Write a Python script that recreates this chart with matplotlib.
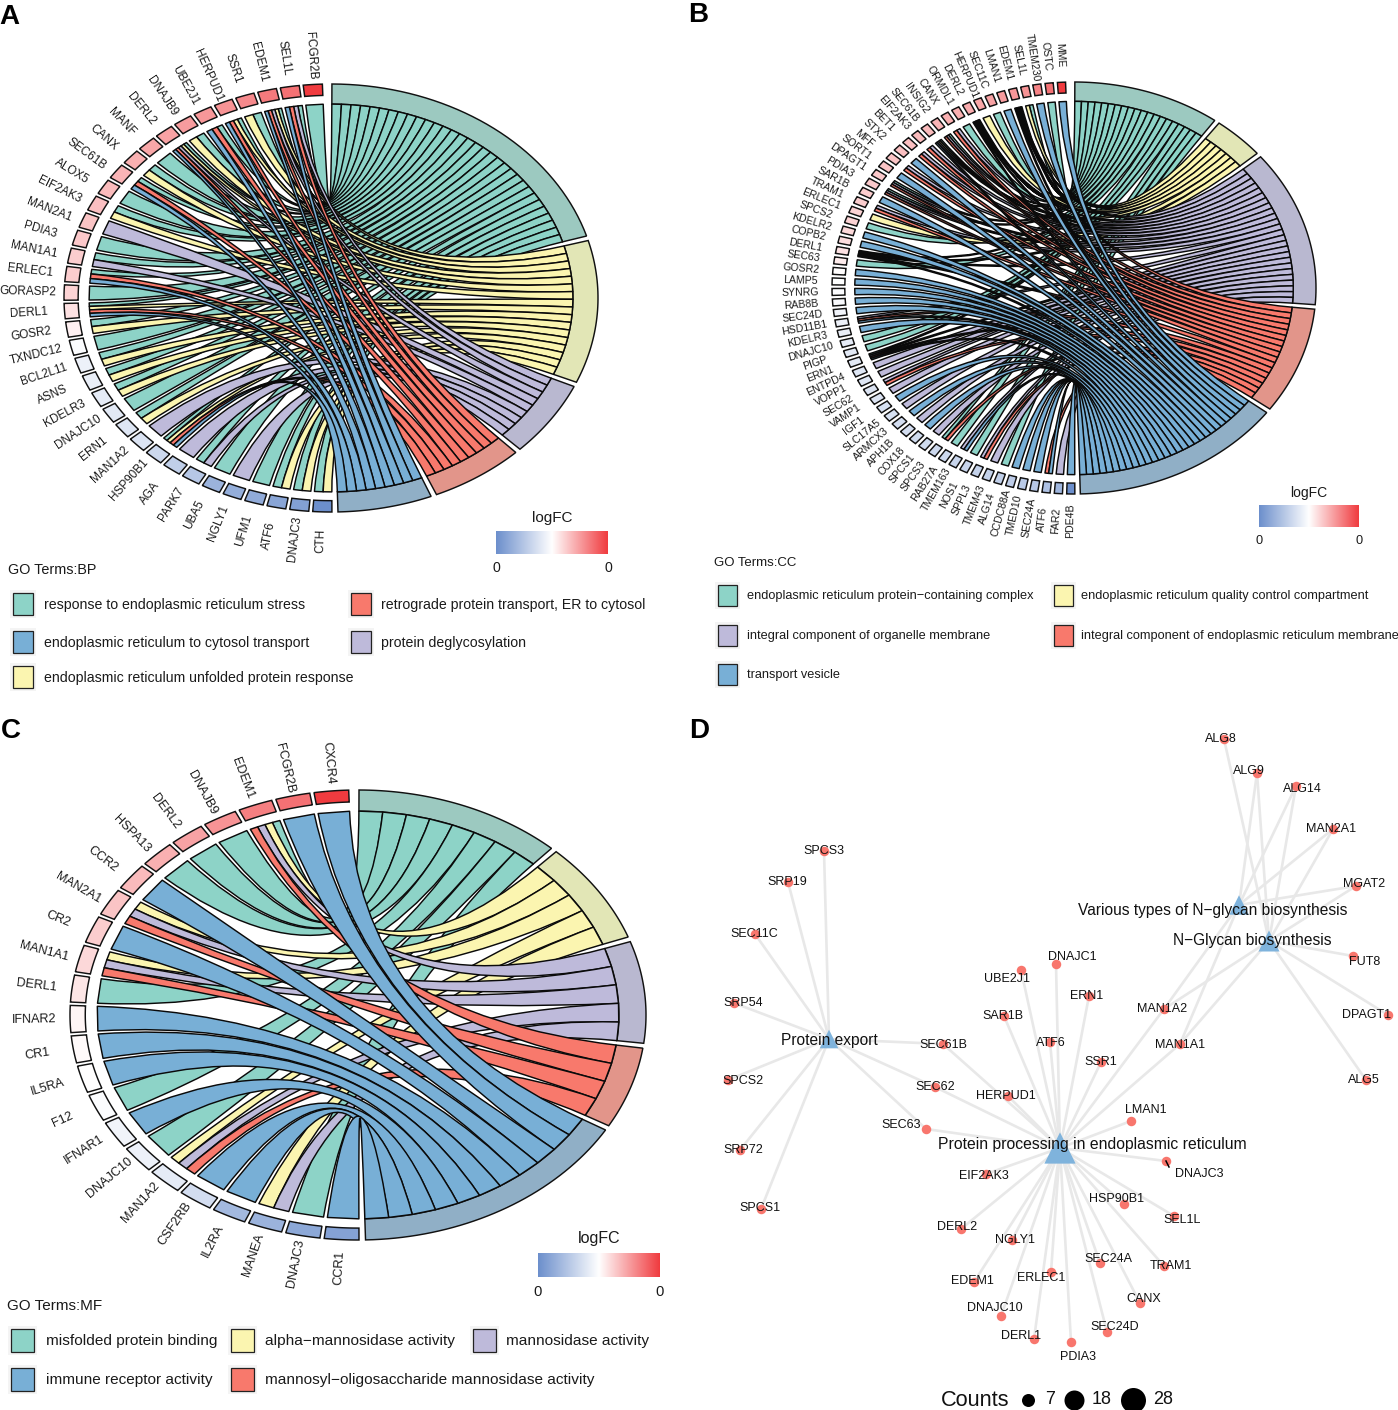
import numpy as np
import matplotlib
matplotlib.use('Agg')
import matplotlib.pyplot as plt
from matplotlib.colors import LinearSegmentedColormap
from matplotlib.patches import PathPatch, Rectangle
from matplotlib.path import Path

plt.rcParams['font.family'] = ['Liberation Sans', 'DejaVu Sans']

# Term order runs clockwise from the top: G Y L R B
TERM_KEYS = 'GYLRB'
ribbon_colors = {'G': '#8DD3C7', 'Y': '#FBF5B0', 'L': '#BEBADA', 'R': '#F8796C', 'B': '#78AFD6'}
ring_colors = {'G': '#9CC9C0', 'Y': '#E2E6B6', 'L': '#B9B8D0', 'R': '#E2958A', 'B': '#90AFC6'}

# Panel A, genes from the bottom of the circle to the top
bp_genes = ['CTH', 'DNAJC3', 'ATF6', 'UFM1', 'NGLY1', 'UBA5', 'PARK7', 'AGA', 'HSP90B1', 'MAN1A2', 'ERN1', 'DNAJC10',
            'KDELR3', 'ASNS', 'BCL2L11', 'TXNDC12', 'GOSR2', 'DERL1', 'GORASP2', 'ERLEC1', 'MAN1A1', 'PDIA3', 'MAN2A1',
            'EIF2AK3', 'ALOX5', 'SEC61B', 'CANX', 'MANF', 'DERL2', 'DNAJB9', 'UBE2J1', 'HERPUD1', 'SSR1', 'EDEM1',
            'SEL1L', 'FCGR2B']
bp_terms = ['GY', 'GY', 'GY', 'G', 'L', 'G', 'GL', 'L', 'GYRB', 'L', 'GY', 'G',
            'GY', 'GY', 'GY', 'G', 'GY', 'GYRB', 'G', 'GRB', 'GL', 'G', 'L',
            'GY', 'G', 'GRB', 'GY', 'G', 'GYLRB', 'GY', 'GRB', 'GYRB', 'GY', 'GYLRB',
            'GLRB', 'G']
bp_logfc = [-.40, -.34, -.32, -.30, -.29, -.27, -.20, -.17, -.14, -.10, -.09, -.08,
            -.07, -.06, -.05, -.01, .03, .06, .09, .10, .10, .11, .12,
            .13, .14, .15, .16, .18, .19, .20, .21, .22, .24, .27,
            .29, .40]
bp_legend = ['response to endoplasmic reticulum stress', 'endoplasmic reticulum to cytosol transport',
             'endoplasmic reticulum unfolded protein response', 'retrograde protein transport, ER to cytosol',
             'protein deglycosylation']

# Panel B
cc_genes = ['PDE4B', 'FAR2', 'ATF6', 'SEC24A', 'TMED10', 'CCDC88A', 'ALG14', 'TMEM43', 'SPPL3', 'NOS1', 'TMEM163',
            'RAB27A', 'SPCS3', 'SPCS1', 'COX18', 'APH1B', 'ARMCX3', 'SLC17A5', 'IGF1', 'VAMP1', 'SEC62', 'VOPP1',
            'ENTPD4', 'ERN1', 'PIGP', 'DNAJC10', 'KDELR3', 'HSD11B1', 'SEC24D', 'RAB8B', 'SYNRG', 'LAMP5', 'GOSR2',
            'SEC63', 'DERL1', 'COPB2', 'KDELR2', 'SPCS2', 'ERLEC1', 'TRAM1', 'SAR1B', 'PDIA3', 'DPAGT1', 'SORT1',
            'MFF', 'STX2', 'BET1', 'EIF2AK3', 'SEC61B', 'INSIG2', 'CANX', 'ORMDL1', 'DERL2', 'HERPUD1', 'SEC11C',
            'LMAN1', 'EDEM1', 'SEL1L', 'TMEM230', 'OSTC', 'MME']
cc_terms = ['B', 'L', 'RB', 'B', 'B', 'B', 'G', 'L', 'LR', 'G', 'LB',
            'G', 'GR', 'L', 'B', 'L', 'B', 'L', 'B', 'L', 'LR', 'L',
            'L', 'GLRB', 'G', 'G', 'B', 'LRB', 'B', 'B', 'B', 'B', 'B',
            'G', 'GYLRB', 'B', 'B', 'G', 'Y', 'LR', 'B', 'GLR', 'GLR', 'B',
            'LR', 'B', 'LR', 'LR', 'GYLB', 'GLR', 'LR', 'G', 'GYLRB', 'Y', 'G',
            'B', 'GYLRB', 'GY', 'B', 'G', 'B']
cc_logfc = [-.40, -.26, -.22, -.20, -.19, -.18, -.17, -.16, -.16, -.15, -.15,
            -.14, -.14, -.13, -.13, -.12, -.12, -.11, -.11, -.10, -.10, -.09,
            -.09, -.08, -.08, -.07, -.06, -.05, -.04, -.02, -.01, -.005, .005,
            .04, .06, .07, .08, .09, .09, .10, .10, .11, .11, .12,
            .12, .13, .13, .14, .14, .15, .16, .16, .17, .18, .19,
            .20, .21, .22, .25, .29, .40]
cc_legend = ['endoplasmic reticulum protein\u2212containing complex', 'integral component of organelle membrane',
             'transport vesicle', 'endoplasmic reticulum quality control compartment',
             'integral component of endoplasmic reticulum membrane']

# Panel C
mf_genes = ['CCR1', 'DNAJC3', 'MANEA', 'IL2RA', 'CSF2RB', 'MAN1A2', 'DNAJC10', 'IFNAR1', 'F12', 'IL5RA', 'CR1', 'IFNAR2',
            'DERL1', 'MAN1A1', 'CR2', 'MAN2A1', 'CCR2', 'HSPA13', 'DERL2', 'DNAJB9', 'EDEM1', 'FCGR2B', 'CXCR4']
mf_terms = ['B', 'G', 'YL', 'B', 'B', 'YLR', 'G', 'B', 'G', 'B', 'B', 'B',
            'G', 'YLR', 'B', 'YLR', 'B', 'G', 'G', 'G', 'GYLR', 'B', 'B']
mf_logfc = [-.33, -.31, -.27, -.25, -.12, -.07, -.05, -.04, -.01, .0, .01, .02,
            .05, .08, .10, .12, .14, .16, .19, .22, .26, .29, .40]
mf_legend = ['misfolded protein binding', 'immune receptor activity', 'alpha\u2212mannosidase activity',
             'mannosyl\u2212oligosaccharide mannosidase activity', 'mannosidase activity']

# Panel D network, layout
hub_names = ['Protein export', 'Protein processing in endoplasmic reticulum',
             'Various types of N\u2212glycan biosynthesis', 'N\u2212Glycan biosynthesis']
hub_x = [829, 1060, 1239, 1269]
hub_y = [1039, 1148, 905, 941]
hub_counts = [10, 28, 11, 13]
hub_label_x = [829, 1092, 1213, 1252]
hub_label_y = [1041, 1145, 911, 941]

node_names = ['ALG8', 'ALG9', 'ALG14', 'MAN2A1', 'MGAT2', 'FUT8', 'DPAGT1', 'ALG5', 'SPCS3', 'SRP19', 'SEC11C', 'SRP54',
              'SPCS2', 'SRP72', 'SPCS1', 'SEC61B', 'SEC62', 'SEC63', 'UBE2J1', 'DNAJC1', 'ERN1', 'SAR1B', 'ATF6', 'SSR1',
              'MAN1A2', 'MAN1A1', 'HERPUD1', 'LMAN1', 'DNAJC3', 'EIF2AK3', 'HSP90B1', 'SEL1L', 'DERL2', 'NGLY1', 'SEC24A',
              'TRAM1', 'ERLEC1', 'EDEM1', 'CANX', 'DNAJC10', 'SEC24D', 'DERL1', 'PDIA3']
node_x = [1224, 1257, 1296, 1333, 1356, 1353, 1388, 1366, 824, 788, 755, 734,
          728, 740, 761, 943, 935, 926, 1021, 1056, 1089, 1004, 1050, 1101,
          1164, 1180, 1008, 1131, 1166, 986, 1124, 1174, 961, 1012, 1100,
          1164, 1051, 974, 1140, 1001, 1107, 1034, 1071]
node_y = [739, 773, 786, 829, 886, 956, 1015, 1080, 851, 882, 934, 1003,
          1080, 1150, 1209, 1044, 1087, 1129, 970, 964, 996, 1016, 1042, 1062,
          1009, 1044, 1096, 1121, 1161, 1174, 1204, 1216, 1229, 1240, 1263,
          1266, 1272, 1282, 1303, 1316, 1332, 1339, 1342]
node_label_x = [1221, 1249, 1302, 1331, 1364, 1365, 1367, 1364, 824, 787, 754, 743,
                743, 743, 760, 943, 935, 901, 1007, 1072, 1087, 1003, 1051, 1101,
                1162, 1180, 1006, 1146, 1199, 984, 1117, 1182, 957, 1015, 1108,
                1171, 1041, 972, 1144, 995, 1115, 1021, 1078]
node_label_y = [739, 771, 789, 829, 884, 962, 1015, 1080, 851, 882, 934, 1003,
                1081, 1150, 1208, 1045, 1087, 1125, 979, 957, 996, 1016, 1043, 1062,
                1009, 1045, 1096, 1110, 1174, 1176, 1199, 1220, 1227, 1240, 1259,
                1266, 1278, 1281, 1299, 1308, 1327, 1336, 1357]
edges_export = ['SPCS3', 'SRP19', 'SEC11C', 'SRP54', 'SPCS2', 'SRP72', 'SPCS1', 'SEC61B', 'SEC62', 'SEC63']
edges_processing = ['UBE2J1', 'DNAJC1', 'ERN1', 'SAR1B', 'ATF6', 'SSR1', 'MAN1A2', 'MAN1A1', 'HERPUD1', 'LMAN1', 'DNAJC3',
                    'EIF2AK3', 'HSP90B1', 'SEL1L', 'DERL2', 'NGLY1', 'SEC24A', 'TRAM1', 'ERLEC1', 'EDEM1', 'CANX',
                    'DNAJC10', 'SEC24D', 'DERL1', 'PDIA3', 'SEC61B', 'SEC62', 'SEC63']
edges_various = ['ALG9', 'ALG14', 'MAN2A1', 'MGAT2', 'MAN1A2', 'MAN1A1']
edges_nglycan = ['ALG8', 'ALG9', 'ALG14', 'MAN2A1', 'MGAT2', 'FUT8', 'DPAGT1', 'ALG5', 'MAN1A2', 'MAN1A1']
size_levels = [7, 18, 28]

LOGFC_CMAP = LinearSegmentedColormap.from_list('logfc', ['#6C8FCC', '#FFFFFF', '#F03B3F'])
LOGFC_MAX = 0.4
RING_IN = 0.906
GENE_IN = 0.947

fig = plt.figure(figsize=(13.98, 14.10), dpi=100)
# whole figure is one axes in picture pixels
ax = fig.add_axes([0, 0, 1, 1])
ax.set_axis_off()


def ell(cx, cy, rx, ry, deg, r=1.0):
    t = np.radians(deg)
    return cx + rx * r * np.cos(t), cy - ry * r * np.sin(t)


def band(cx, cy, rx, ry, a0, a1, r0, r1, face, lw=1.05):
    # closed ring segment between two angles
    ang = np.linspace(a0, a1, 40)
    xo, yo = ell(cx, cy, rx, ry, ang, r1)
    xi, yi = ell(cx, cy, rx, ry, ang[::-1], r0)
    ax.fill(np.r_[xo, xi], np.r_[yo, yi], facecolor=face, edgecolor='#111111', lw=lw, joinstyle='miter', zorder=2)


def chord(cx, cy, rx, ry, genes, terms, logfc, label_r, label_size, gene_gap=0.85, term_gap=1.25):
    n = len(genes)
    g_from, g_to = 270.2, 91.0
    step = (g_from - g_to) / n

    # gene blocks, labels and the gene side of the ribbons
    gene_ends = {k: {} for k in TERM_KEYS}
    for i, name in enumerate(genes):
        a0 = g_from - i * step
        a1 = a0 - step + gene_gap
        color = LOGFC_CMAP(0.5 + logfc[i] / (2 * LOGFC_MAX))
        band(cx, cy, rx, ry, a0, a1, GENE_IN, 1.0, color)
        mid = (a0 + a1) / 2
        lx, ly = ell(cx, cy, rx, ry, mid, label_r)
        ax.text(lx, ly, name, rotation=mid - 180, rotation_mode='anchor', ha='center', va='center',
                fontsize=label_size, color='#1a1a1a', zorder=6)
        present = [k for k in TERM_KEYS[::-1] if k in terms[i]]
        w = (a0 - a1) / len(present)
        for j, k in enumerate(present):
            gene_ends[k][i] = (a0 - j * w, a0 - (j + 1) * w)

    # term ring, ribbon width is the same for all terms
    t_from, t_to = 89.8, -88.5
    total = sum(len(v) for v in gene_ends.values())
    each = (t_from - t_to - term_gap * (len(TERM_KEYS) - 1)) / total
    start = t_from
    for k in TERM_KEYS:
        members = sorted(gene_ends[k], reverse=True)
        stop = start - each * len(members)
        band(cx, cy, rx, ry, start, stop, RING_IN, 1.0, ring_colors[k])
        for j, i in enumerate(members):
            t0 = start - j * each
            t1 = t0 - each
            g_low, g_high = gene_ends[k][i]
            p0 = ell(cx, cy, rx, ry, t0, RING_IN)
            p1 = ell(cx, cy, rx, ry, g_high, RING_IN)
            p2 = ell(cx, cy, rx, ry, g_low, RING_IN)
            p3 = ell(cx, cy, rx, ry, t1, RING_IN)
            verts = [p0, (cx, cy), p1, p2, (cx, cy), p3, p0]
            codes = [Path.MOVETO, Path.CURVE3, Path.CURVE3, Path.LINETO, Path.CURVE3, Path.CURVE3, Path.CLOSEPOLY]
            ax.add_patch(PathPatch(Path(verts, codes), facecolor=ribbon_colors[k], edgecolor='#0a0a0a', lw=1.05,
                                   joinstyle='round', zorder=3))
        start = stop - term_gap


def colorbar(x0, x1, y0, y1, title_y, tick_y, size):
    grad = np.linspace(-LOGFC_MAX, LOGFC_MAX, 256).reshape(1, -1)
    ax.imshow(grad, cmap=LOGFC_CMAP, vmin=-LOGFC_MAX, vmax=LOGFC_MAX, extent=(x0, x1, y1, y0), aspect='auto', zorder=2)
    ax.text((x0 + x1) / 2, title_y, 'logFC', ha='center', va='center', fontsize=size, color='#1a1a1a')
    for x in (x0, x1):
        ax.text(x, tick_y, f'{0:.0f}', ha='center', va='center', fontsize=size * 0.92, color='#1a1a1a')


def legend(title, title_x, title_y, title_size, entries, keys, xs, ys, text_xs, w, h, size):
    ax.text(title_x, title_y, title, ha='left', va='center', fontsize=title_size, color='#1a1a1a')
    for name, k, x, y, tx in zip(entries, keys, xs, ys, text_xs):
        ax.add_patch(Rectangle((x - 3, y - h / 2 - 3), w + 6, h + 6, facecolor='#F4F4F4', edgecolor='none', zorder=1))
        ax.add_patch(Rectangle((x, y - h / 2), w, h, facecolor=ribbon_colors[k], edgecolor='#222222', lw=0.9, zorder=2))
        ax.text(tx, y + 1, name, ha='left', va='center', fontsize=size, color='#1a1a1a')


chord(331, 298, 267, 214, bp_genes, bp_terms, bp_logfc, 1.135, 8.5)
chord(1074, 288, 242, 206, cc_genes, cc_terms, cc_logfc, 1.13, 7.6, gene_gap=1.0)
chord(358, 1015, 288, 225, mf_genes, mf_terms, mf_logfc, 1.125, 9.1)

colorbar(496, 608, 531, 554, 518, 568, 11)
colorbar(1259, 1359, 505, 527, 493, 541, 10)
colorbar(538, 660, 1253, 1277, 1239, 1292, 11.5)

legend('GO Terms:BP', 8, 570, 10.4, bp_legend, 'GBYRL',
       [13, 13, 13, 351, 351], [604, 642, 677, 604, 642], [44, 44, 44, 381, 381], 20, 22, 10.2)
legend('GO Terms:CC', 714, 563, 9.5, cc_legend, 'GLBYR',
       [718, 718, 718, 1054, 1054], [595, 635, 674, 595, 635], [747, 747, 747, 1081, 1081], 19, 21, 9.15)
legend('GO Terms:MF', 7, 1306, 11, mf_legend, 'GBYRL',
       [11, 11, 231, 231, 473], [1340, 1379, 1340, 1379, 1340], [46, 46, 265, 265, 506], 23, 23, 11.1)

# panel D
pos = {name: (x, y) for name, x, y in zip(node_names, node_x, node_y)}
hub_edges = [edges_export, edges_processing, edges_various, edges_nglycan]
for hx, hy, members in zip(hub_x, hub_y, hub_edges):
    for m in members:
        ax.plot([hx, pos[m][0]], [hy, pos[m][1]], color='#E8E8E8', lw=1.9, solid_capstyle='round', zorder=1)
ax.plot([1166, 1169], [1161, 1167], color='black', lw=1.1, zorder=4)


def marker_area(count, scale=1.0):
    # diameter in pixels grows with count, scatter wants points squared
    d = np.interp(count, size_levels, [13, 20, 25]) * scale
    return (d * 0.72) ** 2


ax.scatter(node_x, node_y, s=(9.5 * 0.72) ** 2, color='#F8766D', linewidths=0, zorder=3)
ax.scatter(hub_x, hub_y, s=[marker_area(c, 1.25) for c in hub_counts], marker='^', color='#7FB3DC', linewidths=0, zorder=3)
for name, x, y in zip(node_names, node_label_x, node_label_y):
    ax.text(x, y, name, ha='center', va='center', fontsize=9, color='#111111', zorder=5)
for name, x, y in zip(hub_names, hub_label_x, hub_label_y):
    size = 11.35 if name.startswith('Protein processing') else 11.2
    ax.text(x, y, name, ha='center', va='center', fontsize=size, color='#111111', zorder=5)

ax.text(975.5, 1400, 'Counts', ha='center', va='center', fontsize=15.7, color='#111111')
for level, dot_x, text_x in zip(size_levels, [1028, 1074, 1133], [1050, 1102, 1163]):
    ax.scatter([dot_x], [1400], s=marker_area(level), color='black', linewidths=0, zorder=3)
    ax.text(text_x, 1400, str(level), ha='center', va='center', fontsize=13, color='#111111')

# panel letters
for letter, x, y in [('A', 9, 17), ('B', 698, 15), ('C', 11, 731), ('D', 699, 731)]:
    ax.text(x, y, letter, ha='center', va='center', fontsize=20, fontweight='bold', color='black')

ax.set_xlim(0, 1398)
ax.set_ylim(1410, 0)
fig.savefig('out.png', dpi=100, facecolor='white')
